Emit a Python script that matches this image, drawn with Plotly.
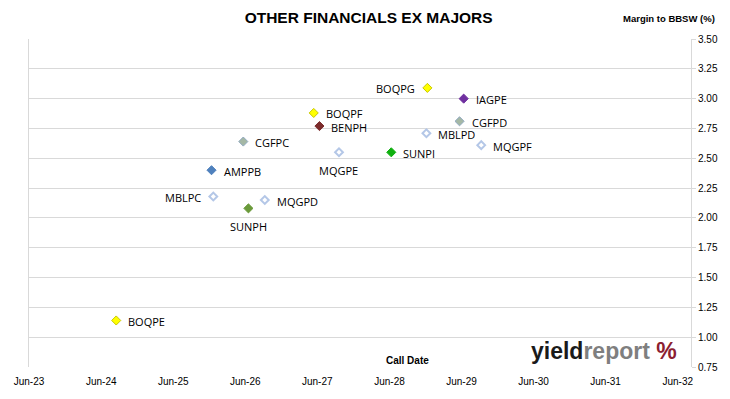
import plotly.graph_objects as go

names = ["BOQPE", "AMPPB", "MBLPC", "CGFPC", "SUNPH", "MQGPD", "BOQPF", "BENPH",
         "MQGPE", "SUNPI", "BOQPG", "MBLPD", "IAGPE", "CGFPD", "MQGPF"]
call_dates = ["2024-08-16", "2025-12-12", "2025-12-21", "2026-05-22", "2026-06-17",
              "2026-09-08", "2027-05-14", "2027-06-12", "2027-09-19", "2028-06-10",
              "2028-12-10", "2028-12-05", "2029-06-12", "2029-05-22", "2029-09-09"]
margins = [1.14, 2.40, 2.18, 2.64, 2.08, 2.15, 2.88, 2.77,
           2.55, 2.55, 3.09, 2.71, 3.00, 2.81, 2.61]
x_tick_dates = ["2023-06-01", "2024-06-01", "2025-06-01", "2026-06-01", "2027-06-01",
                "2028-06-01", "2029-06-01", "2030-06-01", "2031-06-01", "2032-06-01"]
x_tick_labels = ["Jun-23", "Jun-24", "Jun-25", "Jun-26", "Jun-27",
                 "Jun-28", "Jun-29", "Jun-30", "Jun-31", "Jun-32"]
y_ticks = [0.75, 1.00, 1.25, 1.50, 1.75, 2.00, 2.25, 2.50, 2.75, 3.00, 3.25, 3.50]

# styles per issuer
style = {
    "BOQ": dict(symbol="diamond", color="#FFFF00", line="#C8C800", lw=1),
    "AMP": dict(symbol="diamond", color="#4F81BD", line="#4F81BD", lw=1),
    "MBL": dict(symbol="diamond-open", color="#B4C7E7", line="#B4C7E7", lw=2),
    "MQG": dict(symbol="diamond-open", color="#B4C7E7", line="#B4C7E7", lw=2),
    "CGF": dict(symbol="diamond", color="#A5B8A5", line="#8FA8C0", lw=1),
    "SUNPH": dict(symbol="diamond", color="#6A9A3A", line="#6A9A3A", lw=1),
    "SUNPI": dict(symbol="diamond", color="#10B010", line="#10B010", lw=1),
    "BEN": dict(symbol="diamond", color="#7B2B2B", line="#7B2B2B", lw=1),
    "IAG": dict(symbol="diamond", color="#7030A0", line="#7030A0", lw=1),
}
label_side = {"MBLPC": "left", "BOQPG": "left", "SUNPH": "below", "MQGPE": "below"}

def style_of(n):
    if n in style:
        return style[n]
    return style[n[:3]]

NARROW = "Liberation Sans Narrow, Liberation Sans, Arial"
LABEL_FONT = dict(family="Open Sans, Liberation Sans", size=11, color="#000000")

fig = go.Figure()
for n, d, m in zip(names, call_dates, margins):
    s = style_of(n)
    fig.add_trace(go.Scatter(
        x=[d], y=[m], mode="markers",
        marker=dict(symbol=s["symbol"], size=7 if s["lw"] == 1 else 6, color=s["color"],
                    line=dict(color=s["line"], width=s["lw"])),
        showlegend=False, cliponaxis=False, hoverinfo="skip"))
    side = label_side.get(n, "right")
    if side == "right":
        kw = dict(xanchor="left", yanchor="middle", xshift=10, yshift=-1)
    elif side == "left":
        kw = dict(xanchor="right", yanchor="middle", xshift=-10, yshift=-1)
    else:
        kw = dict(xanchor="center", yanchor="middle", xshift=0, yshift=-18)
    fig.add_annotation(x=d, y=m, xref="x", yref="y", text=n, showarrow=False,
                       font=LABEL_FONT, **kw)

fig.update_layout(
    width=730, height=399,
    margin=dict(l=29, r=31, t=39, b=30),
    paper_bgcolor="white", plot_bgcolor="white",
    font=dict(family=NARROW, size=10, color="#000"),
    title=dict(text="<b>OTHER FINANCIALS EX MAJORS</b>", xref="container", x=0.505,
               xanchor="center", yref="container", y=0.955, yanchor="middle",
               font=dict(family=NARROW, size=15.5, color="#000")),
    xaxis=dict(type="date", range=["2023-06-01", "2032-08-07"], tickmode="array",
               tickvals=x_tick_dates, ticktext=x_tick_labels, showgrid=False,
               zeroline=False, showline=False, ticks="outside", ticklen=5,
               tickcolor="rgba(0,0,0,0)",
               tickfont=dict(family=NARROW, size=10, color="#000")),
    yaxis=dict(range=[0.75, 3.5], side="right", tickmode="array", tickvals=y_ticks,
               tickformat=".2f", showgrid=True, gridcolor="#D9D9D9", gridwidth=1,
               showline=True, linecolor="#D9D9D9", mirror=True, ticks="outside",
               ticklen=4, tickcolor="#D9D9D9", zeroline=False,
               tickfont=dict(family=NARROW, size=10, color="#000")),
)

fig.add_annotation(text="<b>Margin to BBSW (%)</b>", xref="paper", yref="paper",
                   x=1.04, y=1.064, xanchor="right", yanchor="middle", showarrow=False,
                   font=dict(family=NARROW, size=9.5, color="#000"))
fig.add_annotation(text="<b>Call Date</b>", xref="paper", yref="paper",
                   x=0.572, y=0.021, xanchor="center", yanchor="middle", showarrow=False,
                   font=dict(family=NARROW, size=10, color="#000"))
fig.add_annotation(text="<b>yield</b><b><span style='color:#7F7F7F'>report</span></b> "
                        "<b><span style='color:#8B2030'>%</span></b>",
                   xref="paper", yref="paper", x=0.982, y=0.048, xanchor="right",
                   yanchor="middle", showarrow=False,
                   font=dict(family=NARROW, size=23, color="#1A1A1A"))

fig.write_html("out.html", config={"displayModeBar": False},
               post_script="document.body.style.margin='0';")
